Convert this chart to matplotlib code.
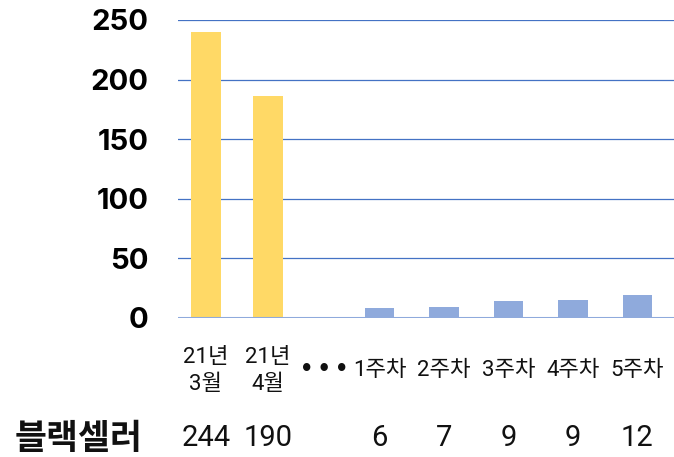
import matplotlib
matplotlib.use("Agg")
import matplotlib.pyplot as plt
from matplotlib.transforms import blended_transform_factory

plt.rcParams['font.family'] = ['Noto Sans CJK KR', 'DejaVu Sans']

categories = ['21년\n3월', '21년\n4월', '•\u2009•\u2009•', '1주차', '2주차', '3주차', '4주차', '5주차']
bar_values = [240, 186, None, 8, 9.5, 14, 15, 19]
bar_groups = ['month', 'month', None, 'week', 'week', 'week', 'week', 'week']
row_label = '블랙셀러'
row_values = ['244', '190', '', '6', '7', '9', '9', '12']
y_ticks = [0, 50, 100, 150, 200, 250]

colors = {'month': '#FFD966', 'week': '#8FAADC'}

# layout: slot positions (the "•••" slot is narrower)
xs = []
for i, g in enumerate(bar_groups):
    if g == 'month':
        xs.append(float(i))
    elif g is None:
        xs.append(1.9)
    else:
        xs.append(2.8 + 1.04 * (i - 3))

fig = plt.figure(figsize=(6.74, 4.57), dpi=100)
ax = fig.add_axes([178/674, 1-318/457, 1-178/674, (318-20)/457])

for x, v, g in zip(xs, bar_values, bar_groups):
    if v is None:
        continue
    ax.bar(x, v, width=0.48, color=colors[g], zorder=2)

ax.set_ylim(0, 250)
ax.set_xlim(-0.45, 7.55)
ax.set_yticks(y_ticks)
ax.set_yticklabels([str(t) for t in y_ticks], fontsize=21, fontweight='bold',
                   family=['Inter', 'DejaVu Sans'])
ax.tick_params(axis='y', length=0, pad=21)
ax.set_xticks([])
for t in y_ticks[1:]:
    ax.axhline(t, color='#4472C4', lw=0.9, zorder=1)
ax.axhline(0, color='#8FAADC', lw=2.2, zorder=3)
for s in ax.spines.values():
    s.set_visible(False)

tr = blended_transform_factory(ax.transData, fig.transFigure)
for x, c, g in zip(xs, categories, bar_groups):
    if g is None:
        ax.text(x, 1-369/457, c, transform=tr, ha='center', va='center',
                fontsize=15, fontweight='bold', family=['DejaVu Sans'], color='#111111')
    else:
        ax.text(x, 1-371/457, c, transform=tr, ha='center', va='center',
                fontsize=16, fontweight='normal', linespacing=1.4,
                family=['Roboto', 'Noto Sans CJK KR'], color='#111111')
for x, v in zip(xs, row_values):
    if v:
        ax.text(x, 1-438/457, v, transform=tr, ha='center', va='center',
                fontsize=21, family=['Roboto', 'Noto Sans CJK KR'], color='#111111')
fig.text(15/674, 1-439/457, row_label, ha='left', va='center',
         fontsize=25, fontweight='bold', color='#111111')

fig.savefig('out.png', dpi=100)
